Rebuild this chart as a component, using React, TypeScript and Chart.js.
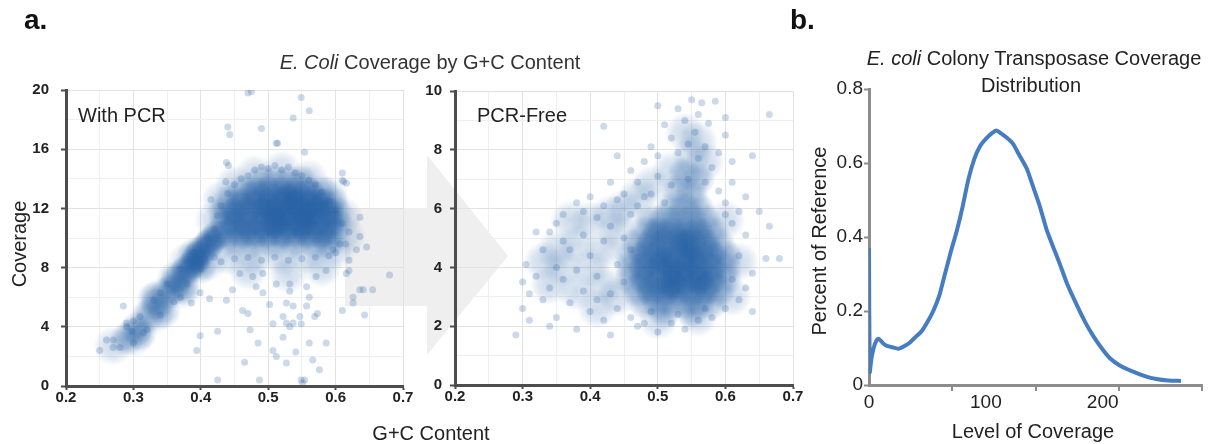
import React, { useEffect, useRef } from "react";
import { Chart, registerables } from "chart.js";

Chart.register(...registerables);

const FONT = '"Liberation Sans", Arial, Helvetica, sans-serif';

// ---------- Panel a: shared G+C content axis ----------
const gcTicks = [0.2, 0.25, 0.3, 0.35, 0.4, 0.45, 0.5, 0.55, 0.6, 0.65, 0.7];
const gcTickLabels = ["0.2", "", "0.3", "", "0.4", "", "0.5", "", "0.6", "", "0.7"];

// ---------- Panel a, left: With PCR ----------
const withPcrTicks = [0, 2, 4, 6, 8, 10, 12, 14, 16, 18, 20];
const withPcrTickLabels = ["0", "", "4", "", "8", "", "12", "", "16", "", "20"];

// densest windows (G+C, coverage)
const withPcrCore: [number, number][] = [
  [0.38, 7.9], [0.395, 8.7], [0.41, 9.5], [0.425, 10.2], [0.39, 8.3], [0.4, 9.1], [0.415, 9.8],
  [0.48, 13.1], [0.5, 13.1], [0.52, 13.1], [0.54, 13.1], [0.56, 13.1],
  [0.46, 12.4], [0.48, 12.4], [0.5, 12.4], [0.52, 12.4], [0.54, 12.4], [0.56, 12.4], [0.58, 12.4],
  [0.45, 11.7], [0.47, 11.7], [0.49, 11.7], [0.51, 11.7], [0.53, 11.7], [0.55, 11.7], [0.57, 11.7], [0.59, 11.7],
  [0.45, 11.0], [0.47, 11.0], [0.49, 11.0], [0.51, 11.0], [0.53, 11.0], [0.55, 11.0], [0.57, 11.0], [0.59, 11.0],
  [0.46, 10.3], [0.48, 10.3], [0.5, 10.3], [0.52, 10.3], [0.54, 10.3], [0.56, 10.3], [0.58, 10.3],
  [0.5, 12.0], [0.52, 11.4], [0.54, 12.2], [0.56, 11.5], [0.53, 12.7], [0.51, 11.0], [0.55, 10.9], [0.57, 12.3],
];

// medium-density windows
const withPcrMid: [number, number][] = [
  [0.29, 3.2], [0.305, 3.9], [0.32, 4.7], [0.335, 5.5], [0.35, 6.3], [0.365, 7.1], [0.36, 6.6], [0.375, 7.6],
  [0.33, 5.9], [0.345, 5.0], [0.36, 7.3], [0.375, 6.6], [0.39, 8.9], [0.4, 8.0], [0.31, 3.5],
  [0.49, 13.8], [0.51, 13.8], [0.53, 13.8], [0.55, 13.8], [0.46, 13.1], [0.58, 13.1],
  [0.44, 12.4], [0.595, 12.4], [0.435, 11.7], [0.6, 11.7], [0.435, 11.0], [0.6, 11.0], [0.44, 10.3], [0.595, 10.3],
  [0.45, 9.7], [0.48, 9.7], [0.51, 9.7], [0.54, 9.7], [0.57, 9.7], [0.59, 9.7],
];

// lighter fringe of the cloud
const withPcrHalo: [number, number][] = [
  [0.27, 2.7], [0.3, 3.3], [0.33, 4.8], [0.34, 6.0], [0.37, 6.5], [0.38, 8.4], [0.41, 8.4], [0.42, 11.2],
  [0.43, 12.6], [0.45, 13.6], [0.48, 14.3], [0.52, 14.6], [0.56, 14.0], [0.59, 12.9], [0.61, 11.5],
  [0.615, 10.2], [0.6, 9.2], [0.56, 8.9], [0.52, 8.8], [0.48, 8.8], [0.44, 8.8], [0.47, 7.8], [0.53, 7.6], [0.58, 8.0],
];

// individual windows
const withPcrPoints: [number, number][] = [
  [0.386, 5.6], [0.399, 6.3], [0.413, 5.9], [0.399, 3.4], [0.394, 2.4], [0.425, 3.7], [0.425, 0.4], [0.465, 1.6],
  [0.47, 4.9], [0.473, 3.8], [0.485, 2.9], [0.487, 0.4], [0.492, 6.3], [0.502, 5.5], [0.507, 2.4], [0.512, 2.0],
  [0.522, 4.7], [0.522, 3.3], [0.527, 1.55], [0.532, 6.4], [0.537, 4.25], [0.541, 2.3], [0.547, 4.7], [0.549, 0.4],
  [0.551, 0.2], [0.554, 0.4], [0.557, 5.4], [0.561, 6.0], [0.561, 2.9], [0.566, 1.75], [0.576, 1.1], [0.569, 4.7],
  [0.573, 4.9], [0.586, 2.9], [0.549, 4.2], [0.507, 4.2], [0.527, 4.25], [0.532, 4.0], [0.537, 5.4], [0.527, 5.6],
  [0.512, 6.9], [0.532, 6.9], [0.492, 7.6], [0.477, 7.4], [0.458, 7.6], [0.447, 6.5], [0.438, 5.8], [0.462, 5.1],
  [0.482, 6.7], [0.557, 6.7], [0.571, 7.4], [0.586, 7.8], [0.596, 9.2], [0.606, 9.6], [0.61, 5.1], [0.616, 7.6],
  [0.62, 8.5], [0.631, 9.2], [0.636, 10.1], [0.636, 11.4], [0.641, 6.5], [0.626, 6.0], [0.646, 9.4], [0.643, 4.8],
  [0.655, 6.5], [0.68, 7.5], [0.61, 13.9], [0.616, 13.7], [0.636, 6.5], [0.626, 5.6], [0.62, 7.8], [0.438, 15.1],
  [0.554, 15.8], [0.298, 3.7], [0.285, 5.4], [0.25, 2.4], [0.26, 3.1], [0.27, 2.6], [0.29, 4.25], [0.315, 3.6],
  [0.47, 19.8], [0.475, 19.9], [0.549, 19.5], [0.561, 18.6], [0.537, 18.1], [0.44, 17.5], [0.443, 17.0], [0.49, 17.4],
  [0.512, 16.4], [0.441, 14.9], [0.437, 13.8], [0.61, 14.4], [0.612, 13.8], [0.514, 16.4], [0.415, 12.6],
  [0.44, 13.0], [0.45, 13.6], [0.46, 14.0], [0.47, 14.2], [0.48, 14.6], [0.49, 14.8], [0.5, 14.7], [0.51, 14.9],
  [0.52, 14.6], [0.53, 14.8], [0.54, 14.4], [0.55, 14.2], [0.56, 13.9], [0.57, 13.6], [0.58, 13.1], [0.59, 12.5],
  [0.6, 11.9], [0.61, 11.0], [0.62, 10.4], [0.615, 9.6], [0.6, 9.0], [0.59, 8.8], [0.57, 8.7], [0.55, 8.6],
  [0.53, 8.5], [0.51, 8.7], [0.49, 8.5], [0.47, 8.7], [0.45, 8.6], [0.43, 8.4], [0.42, 10.6], [0.425, 11.5], [0.43, 12.2],
  [0.28, 2.6], [0.29, 4.0], [0.3, 2.9], [0.31, 4.7], [0.32, 3.8], [0.33, 5.8], [0.34, 4.8], [0.35, 6.9],
  [0.36, 5.7], [0.37, 7.9], [0.38, 6.9], [0.39, 9.0], [0.4, 7.9], [0.41, 10.0], [0.42, 8.7], [0.27, 3.1],
  [0.3, 4.4], [0.34, 6.3], [0.37, 6.0], [0.4, 8.3],
];

// ---------- Panel a, right: PCR-Free ----------
const pcrFreeTicks = [0, 1, 2, 3, 4, 5, 6, 7, 8, 9, 10];
const pcrFreeTickLabels = ["0", "", "2", "", "4", "", "6", "", "8", "", "10"];

const pcrFreeCore: [number, number][] = [
  [0.5, 5.2], [0.52, 5.2], [0.54, 5.2], [0.56, 5.2],
  [0.49, 4.8], [0.51, 4.8], [0.53, 4.8], [0.55, 4.8], [0.57, 4.8],
  [0.48, 4.4], [0.5, 4.4], [0.52, 4.4], [0.54, 4.4], [0.56, 4.4], [0.58, 4.4],
  [0.48, 4.0], [0.5, 4.0], [0.52, 4.0], [0.54, 4.0], [0.56, 4.0], [0.58, 4.0],
  [0.48, 3.6], [0.5, 3.6], [0.52, 3.6], [0.54, 3.6], [0.56, 3.6], [0.58, 3.6],
  [0.49, 3.2], [0.51, 3.2], [0.53, 3.2], [0.55, 3.2], [0.57, 3.2],
  [0.51, 4.2], [0.53, 3.8], [0.55, 4.3], [0.52, 3.4], [0.54, 4.8], [0.56, 3.6],
];

const pcrFreeMid: [number, number][] = [
  [0.52, 6.0], [0.54, 6.0], [0.56, 6.0],
  [0.49, 5.6], [0.51, 5.6], [0.53, 5.6], [0.55, 5.6], [0.57, 5.6],
  [0.48, 5.2], [0.58, 5.2], [0.47, 4.8], [0.59, 4.8],
  [0.46, 4.4], [0.6, 4.4], [0.46, 4.0], [0.6, 4.0], [0.46, 3.6], [0.6, 3.6],
  [0.47, 3.2], [0.59, 3.2],
  [0.48, 2.8], [0.5, 2.8], [0.52, 2.8], [0.54, 2.8], [0.56, 2.8], [0.58, 2.8],
  [0.51, 2.5], [0.55, 2.5],
  [0.53, 6.6], [0.55, 6.5], [0.54, 7.2], [0.56, 7.0],
];

const pcrFreeHalo: [number, number][] = [
  [0.55, 7.8], [0.52, 7.3], [0.57, 7.6], [0.56, 8.3], [0.54, 8.6],
  [0.44, 5.2], [0.42, 4.6], [0.4, 4.0], [0.42, 3.4], [0.44, 3.0], [0.38, 4.8], [0.36, 4.0], [0.38, 3.2],
  [0.4, 5.6], [0.34, 3.4], [0.45, 6.0], [0.47, 6.4], [0.49, 6.8], [0.43, 5.8], [0.41, 2.6], [0.37, 5.6],
  [0.35, 4.6], [0.33, 4.2], [0.62, 4.2], [0.61, 3.0], [0.6, 5.6], [0.5, 2.2], [0.56, 2.3],
];

const pcrFreePoints: [number, number][] = [
  [0.55, 9.7], [0.565, 9.6], [0.585, 9.65], [0.53, 9.4], [0.56, 9.2], [0.51, 8.85], [0.54, 9.0], [0.575, 8.9],
  [0.6, 8.5], [0.555, 8.6], [0.52, 8.4], [0.49, 8.1], [0.545, 8.2], [0.57, 8.1], [0.59, 7.9], [0.61, 7.6],
  [0.48, 7.6], [0.5, 7.8], [0.53, 7.9], [0.56, 7.7], [0.58, 7.4], [0.46, 7.3], [0.44, 7.8], [0.47, 6.9],
  [0.5, 7.1], [0.52, 6.8], [0.545, 7.0], [0.57, 6.9], [0.59, 6.6], [0.61, 6.9], [0.63, 6.4], [0.6, 6.2],
  [0.49, 6.5], [0.51, 6.2], [0.43, 6.9], [0.45, 6.5], [0.42, 8.8], [0.5, 9.5], [0.6, 9.1], [0.665, 9.2],
  [0.64, 7.8], [0.62, 5.9],
  [0.29, 1.7], [0.3, 2.6], [0.31, 3.1], [0.305, 4.1], [0.32, 3.7], [0.33, 2.9], [0.33, 4.6], [0.34, 3.3],
  [0.34, 5.2], [0.35, 2.3], [0.35, 4.0], [0.36, 5.8], [0.36, 3.6], [0.37, 2.8], [0.37, 4.6], [0.38, 6.2],
  [0.38, 3.9], [0.38, 1.9], [0.39, 5.1], [0.39, 3.2], [0.4, 2.5], [0.4, 4.4], [0.4, 6.4], [0.41, 5.7],
  [0.41, 3.7], [0.42, 2.2], [0.42, 4.9], [0.42, 6.1], [0.43, 3.1], [0.43, 5.4], [0.43, 1.7], [0.44, 4.1],
  [0.44, 2.6], [0.44, 6.3], [0.45, 3.5], [0.45, 5.0], [0.46, 2.3], [0.46, 5.8], [0.46, 4.6], [0.47, 6.1],
  [0.47, 2.0], [0.48, 6.4], [0.36, 4.9], [0.34, 2.0], [0.32, 5.2], [0.3, 3.5], [0.31, 2.2], [0.35, 5.5],
  [0.39, 5.9], [0.41, 2.9],
  [0.48, 2.1], [0.5, 1.8], [0.52, 2.1], [0.54, 1.9], [0.56, 2.2], [0.58, 2.3], [0.6, 2.6], [0.62, 2.9],
  [0.61, 3.6], [0.62, 4.4], [0.63, 5.1], [0.61, 5.5], [0.64, 3.8], [0.64, 2.5], [0.66, 4.3], [0.665, 5.4],
  [0.68, 4.3], [0.65, 5.9], [0.63, 3.3], [0.6, 5.8], [0.53, 2.4], [0.57, 2.6], [0.49, 2.5],
];

// ---------- Panel b: coverage distribution ----------
const levelOfCoverage = [
  0, 0.6, 2, 4, 6, 8, 10, 13, 16, 20, 25, 30, 35, 40, 45, 50, 55, 60, 65, 70, 75, 80, 85, 90, 95, 100,
  105, 109, 113, 118, 123, 128, 135, 140, 146, 152, 158, 163, 170, 178, 185, 192, 199, 206, 215, 226,
  236, 246, 256, 267,
];
const percentOfReference = [
  0.37, 0.035, 0.07, 0.1, 0.118, 0.125, 0.12, 0.11, 0.105, 0.102, 0.098, 0.105, 0.115, 0.13, 0.145, 0.17,
  0.2, 0.24, 0.3, 0.36, 0.415, 0.48, 0.555, 0.61, 0.645, 0.665, 0.68, 0.688, 0.68, 0.668, 0.653, 0.625,
  0.585, 0.54, 0.485, 0.42, 0.37, 0.33, 0.27, 0.215, 0.17, 0.132, 0.1, 0.073, 0.052, 0.036, 0.024, 0.016,
  0.012, 0.011,
];
const levelTicks = [0, 100, 200];
const levelTickMarks = [71.25, 142.5, 213.75, 285];
const percentTicks = [0, 0.2, 0.4, 0.6, 0.8];

// ---------- helpers ----------
const toXY = (pts: [number, number][]) => pts.map(([x, y]) => ({ x, y }));

function softDot(d: number, alpha: number) {
  const c = document.createElement("canvas");
  c.width = d;
  c.height = d;
  const g = c.getContext("2d")!;
  const r = d / 2;
  const grad = g.createRadialGradient(r, r, 0, r, r, r);
  grad.addColorStop(0, `rgba(40,98,165,${alpha})`);
  grad.addColorStop(0.55, `rgba(40,98,165,${alpha * 0.65})`);
  grad.addColorStop(1, "rgba(40,98,165,0)");
  g.fillStyle = grad;
  g.fillRect(0, 0, d, d);
  return c;
}

const AXIS_DARK = "#4d4d4d";
const AXIS_GRAY = "#8c8c8c";

function scatterConfig(opts: any) {
  const {
    points, core, mid, halo, yTicks, yLabels, yMax, padding, yWidth, xHeight, yPad, dots,
  } = opts;
  return {
    type: "scatter",
    data: {
      datasets: [
        { data: toXY(points), pointRadius: 3.5, pointBackgroundColor: "rgba(40,98,165,0.24)", pointBorderWidth: 0 },
        { data: toXY(core), pointStyle: dots.core, pointRadius: 5, pointBorderWidth: 0 },
        { data: toXY(mid), pointStyle: dots.mid, pointRadius: 5, pointBorderWidth: 0 },
        { data: toXY(halo), pointStyle: dots.halo, pointRadius: 5, pointBorderWidth: 0 },
      ],
    },
    options: {
      responsive: false,
      animation: false,
      devicePixelRatio: 1,
      events: [],
      layout: { padding },
      plugins: { legend: { display: false }, tooltip: { enabled: false } },
      scales: {
        x: {
          type: "linear",
          min: 0.2,
          max: 0.7,
          afterBuildTicks: (s: any) => { s.ticks = gcTicks.map((v) => ({ value: v })); },
          afterFit: (s: any) => { s.height = xHeight; },
          ticks: {
            autoSkip: false, maxRotation: 0, minRotation: 0, padding: 0, color: "#222",
            font: { family: FONT, size: 15, weight: "bold", lineHeight: 1 },
            callback: (_v: any, i: number) => gcTickLabels[i],
          },
          grid: {
            color: (c: any) => (gcTickLabels[c.index] ? "#e2e2e2" : "#efefef"),
            tickLength: 4,
            tickWidth: 2,
            tickColor: (c: any) => (gcTickLabels[c.index] ? AXIS_DARK : "rgba(0,0,0,0)"),
          },
          border: { display: true, color: AXIS_DARK, width: 3 },
        },
        y: {
          type: "linear",
          min: 0,
          max: yMax,
          afterBuildTicks: (s: any) => { s.ticks = yTicks.map((v: number) => ({ value: v })); },
          afterFit: (s: any) => { s.width = yWidth; },
          ticks: {
            autoSkip: false, padding: yPad, color: "#222",
            font: { family: FONT, size: 15, weight: "bold", lineHeight: 1 },
            callback: (_v: any, i: number) => yLabels[i],
          },
          grid: {
            color: (c: any) => (yLabels[c.index] ? "#e2e2e2" : "#efefef"),
            tickLength: 5,
            tickWidth: 2,
            tickColor: (c: any) => (yLabels[c.index] ? AXIS_DARK : "rgba(0,0,0,0)"),
          },
          border: { display: true, color: AXIS_DARK, width: 3 },
        },
      },
    },
  };
}

function Text(props: any) {
  const { x, baseline, size, align = "left", bold, color = "#222", children } = props;
  const style: any = {
    position: "absolute",
    top: baseline - 0.8465 * size,
    left: x,
    fontFamily: FONT,
    fontSize: size,
    lineHeight: `${size}px`,
    fontWeight: bold ? "bold" : "normal",
    color,
    whiteSpace: "nowrap",
  };
  if (align === "center") style.transform = "translateX(-50%)";
  return <div style={style}>{children}</div>;
}

function VText(props: any) {
  const { cx, cy, size, color = "#222", children } = props;
  const w = 300;
  return (
    <div
      style={{
        position: "absolute",
        left: cx - w / 2,
        top: cy - size / 2,
        width: w,
        textAlign: "center",
        fontFamily: FONT,
        fontSize: size,
        lineHeight: `${size}px`,
        color,
        whiteSpace: "nowrap",
        transform: "rotate(-90deg)",
      }}
    >
      {children}
    </div>
  );
}

export default function App() {
  const c1 = useRef<HTMLCanvasElement>(null);
  const c2 = useRef<HTMLCanvasElement>(null);
  const c3 = useRef<HTMLCanvasElement>(null);

  useEffect(() => {
    const dots = {
      core: softDot(32, 0.72),
      mid: softDot(34, 0.4),
      halo: softDot(40, 0.24),
    };

    const chart1 = new Chart(
      c1.current!,
      scatterConfig({
        points: withPcrPoints, core: withPcrCore, mid: withPcrMid, halo: withPcrHalo,
        yTicks: withPcrTicks, yLabels: withPcrTickLabels, yMax: 20,
        padding: { left: 0, top: 90, right: 806, bottom: 0 },
        yWidth: 66, xHeight: 58, yPad: 12, dots,
      }) as any
    );

    const chart2 = new Chart(
      c2.current!,
      scatterConfig({
        points: pcrFreePoints, core: pcrFreeCore, mid: pcrFreeMid, halo: pcrFreeHalo,
        yTicks: pcrFreeTicks, yLabels: pcrFreeTickLabels, yMax: 10,
        padding: { left: 420, top: 91, right: 416, bottom: 0 },
        yWidth: 35, xHeight: 59, yPad: 8, dots,
      }) as any
    );

    const quarterTicks = {
      id: "quarterTicks",
      afterDraw(chart: any) {
        const s = chart.scales.x;
        const ctx = chart.ctx;
        ctx.save();
        ctx.strokeStyle = AXIS_GRAY;
        ctx.lineWidth = 2;
        levelTickMarks.forEach((v) => {
          const px = Math.round(s.getPixelForValue(v));
          ctx.beginPath();
          ctx.moveTo(px, s.top);
          ctx.lineTo(px, s.top + 6);
          ctx.stroke();
        });
        ctx.restore();
      },
    };

    const chart3 = new Chart(c3.current!, {
      type: "line",
      data: {
        datasets: [
          {
            data: levelOfCoverage.map((x, i) => ({ x, y: percentOfReference[i] })),
            borderColor: "#467cc0",
            borderWidth: 4,
            pointRadius: 0,
            tension: 0.2,
            fill: false,
          },
        ],
      },
      options: {
        responsive: false,
        animation: false,
        devicePixelRatio: 1,
        events: [],
        layout: { padding: { left: 800, top: 89, right: 7, bottom: 0 } },
        plugins: { legend: { display: false }, tooltip: { enabled: false } },
        scales: {
          x: {
            type: "linear",
            min: 0,
            max: 285,
            afterBuildTicks: (s: any) => { s.ticks = levelTicks.map((v) => ({ value: v })); },
            afterFit: (s: any) => { s.height = 59; },
            ticks: {
              autoSkip: false, maxRotation: 0, minRotation: 0, padding: 8, color: "#222",
              font: { family: FONT, size: 19, lineHeight: 1 },
              callback: (v: any) => String(v),
            },
            grid: { drawOnChartArea: false, drawTicks: false },
            border: { display: true, color: AXIS_GRAY, width: 3 },
          },
          y: {
            type: "linear",
            min: 0,
            max: 0.8,
            afterBuildTicks: (s: any) => { s.ticks = percentTicks.map((v) => ({ value: v })); },
            afterFit: (s: any) => { s.width = 69; },
            ticks: {
              autoSkip: false, padding: 1, color: "#222",
              font: { family: FONT, size: 19, lineHeight: 1 },
              callback: (v: any) => (v === 0 ? "0" : Number(v).toFixed(1)),
            },
            grid: { drawOnChartArea: false, tickLength: 5, tickWidth: 2, tickColor: AXIS_GRAY },
            border: { display: true, color: AXIS_GRAY, width: 3 },
          },
        },
      },
      plugins: [quarterTicks],
    } as any);

    return () => {
      chart1.destroy();
      chart2.destroy();
      chart3.destroy();
    };
  }, []);

  const canvasStyle: any = { position: "absolute", left: 0, top: 0, width: 1209, height: 444 };

  return (
    <div
      style={{
        position: "absolute", left: 0, top: 0, width: 1209, height: 444,
        overflow: "hidden", background: "#fff",
      }}
    >
      <div
        style={{
          position: "absolute", left: 345, top: 155, width: 163, height: 200, background: "#efefef",
          clipPath: "polygon(0px 53px, 82px 53px, 82px 0px, 163px 101px, 82px 200px, 82px 151px, 0px 151px)",
        }}
      />
      <canvas ref={c1} width={1209} height={444} style={canvasStyle} />
      <canvas ref={c2} width={1209} height={444} style={canvasStyle} />
      <canvas ref={c3} width={1209} height={444} style={canvasStyle} />

      <Text x={24} baseline={30} size={28} bold color="#111">a.</Text>
      <Text x={790} baseline={30} size={28} bold color="#111">b.</Text>

      <Text x={430} baseline={69} size={20} align="center" color="#333">
        <i>E. Coli</i> Coverage by G+C Content
      </Text>
      <Text x={78} baseline={122} size={20}>With PCR</Text>
      <Text x={477} baseline={122} size={20}>PCR-Free</Text>
      <Text x={431} baseline={440} size={20} align="center">G+C Content</Text>
      <VText cx={19} cy={244} size={20}>Coverage</VText>

      <Text x={1034} baseline={65} size={20} align="center">
        <i>E. coli</i> Colony Transposase Coverage
      </Text>
      <Text x={1031} baseline={92} size={20} align="center">Distribution</Text>
      <VText cx={819} cy={241} size={20}>Percent of Reference</VText>
      <Text x={1033} baseline={438} size={20} align="center">Level of Coverage</Text>
    </div>
  );
}
